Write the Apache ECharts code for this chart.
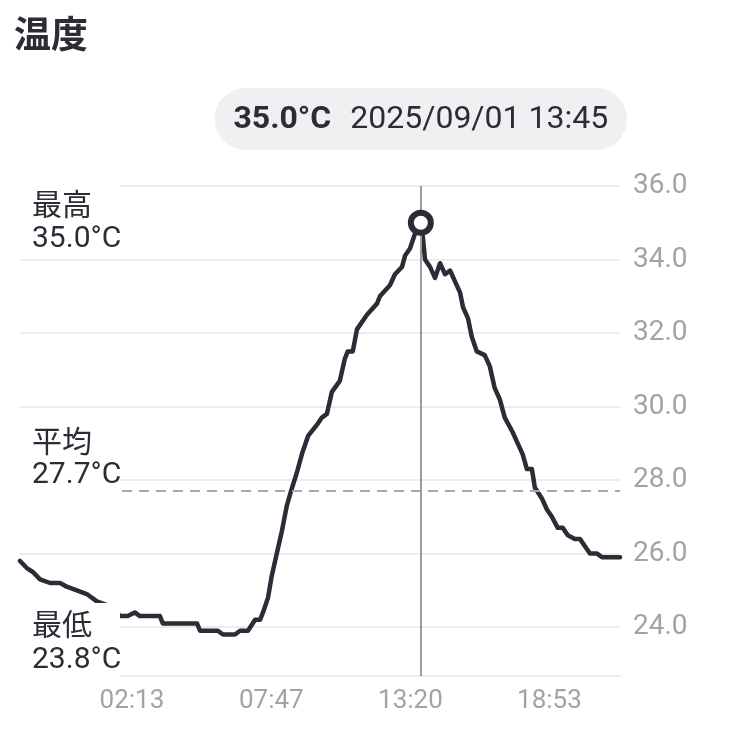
<!DOCTYPE html>
<html><head><meta charset="utf-8">
<script src="https://cdn.jsdelivr.net/npm/echarts@6/dist/echarts.min.js"></script>
<style>html,body{margin:0;padding:0;background:#fff}#c{width:740px;height:740px}</style>
</head><body><div id="c"></div>
<script>
const chartTitle = '温度';
// minutes from 2025/09/01 00:00 (negative = previous evening)
const times = [-135,-118,-104,-87,-63,-39,-23,1,25,49,73,92,104,123,140,152,200,207,248,289,296,339,351,380,392,411,428,440,447,459,468,480,492,504,514,528,540,555,576,588,600,612,631,643,650,662,672,696,720,727,751,763,780,787,799,811,825,830,835,847,859,871,883,895,907,919,926,938,947,959,978,990,1002,1014,1026,1045,1057,1069,1079,1091,1098,1115,1127,1139,1153,1165,1177,1194,1206,1218,1230,1247,1259,1302];
const temps = [25.8,25.6,25.5,25.3,25.2,25.2,25.1,25.0,24.9,24.7,24.6,24.5,24.3,24.3,24.4,24.3,24.3,24.1,24.1,24.1,23.9,23.9,23.8,23.8,23.9,23.9,24.2,24.2,24.4,24.8,25.4,26.0,26.6,27.3,27.7,28.2,28.7,29.2,29.5,29.7,29.8,30.4,30.7,31.3,31.5,31.5,32.1,32.5,32.8,33.0,33.3,33.6,33.8,34.1,34.3,34.7,35.0,34.6,34.0,33.8,33.5,33.9,33.6,33.7,33.4,33.1,32.7,32.4,31.9,31.5,31.4,31.1,30.5,30.2,29.7,29.3,29.0,28.7,28.3,28.3,27.8,27.5,27.2,27.0,26.7,26.7,26.5,26.4,26.4,26.2,26.0,26.0,25.9,25.9];
const xTickLabels = ['02:13','07:47','13:20','18:53'];
const yTickValues = [24,26,28,30,32,34,36];
const xRange = [-135, 1302];
const yRange = [22.67, 36];
const peakDate = '2025/09/01';
const peakTimeLabel = '13:45';
const peakValue = 35.0;
const statNames = ['最高','平均','最低'];
const statValues = [35.0, 27.7, 23.8];

const toMin = s => { const [h,m] = s.split(':').map(Number); return h*60+m; };
const xTickValues = xTickLabels.map(toMin);
const peakTime = toMin(peakTimeLabel);

const FONT = 'Roboto, "Noto Sans CJK JP", sans-serif';
const DARK = '#2b2c35';
const GRID = '#ececec';
const chart = echarts.init(document.getElementById('c'));
const gridTop = 186, gridBottom = 64;

chart.setOption({
  animation: false,
  grid: { left: 20, right: 120, top: gridTop, bottom: gridBottom },
  xAxis: {
    type: 'value', min: xRange[0], max: xRange[1],
    axisLine: { show: true, lineStyle: { color: GRID, width: 2 } },
    axisTick: { show: false, customValues: xTickValues },
    splitLine: { show: false },
    axisLabel: {
      customValues: xTickValues,
      formatter: v => xTickLabels[xTickValues.indexOf(v)] || '',
      color: '#a3a3a3', fontSize: 26, margin: 12, fontFamily: FONT
    }
  },
  yAxis: {
    type: 'value', position: 'right', min: yRange[0], max: yRange[1],
    axisLine: { show: false },
    axisTick: { show: false, customValues: yTickValues },
    axisLabel: {
      customValues: yTickValues,
      formatter: v => v.toFixed(1),
      color: '#a3a3a3', fontSize: 28, margin: 13, fontFamily: FONT
    },
    splitLine: { show: true, lineStyle: { color: GRID, width: 2 } }
  },
  series: [{
    type: 'line',
    data: times.map((t, i) => [t, temps[i]]),
    symbol: 'none',
    lineStyle: { color: DARK, width: 4.5, join: 'round', cap: 'round' },
    markLine: {
      silent: true, symbol: ['none','none'], label: { show: false },
      data: [
        { yAxis: statValues[1], lineStyle: { type: [10, 7], color: '#a8a8a8', width: 2 } },
        { xAxis: peakTime, lineStyle: { type: 'solid', color: '#9c9c9c', width: 2 } }
      ]
    },
    markPoint: {
      silent: true, symbol: 'circle', symbolSize: 20,
      itemStyle: { color: '#fff', borderColor: DARK, borderWidth: 6 },
      label: { show: false },
      data: [{ coord: [peakTime, peakValue] }]
    }
  }]
});

const yPx = v => chart.convertToPixel({ yAxisIndex: 0 }, v);
const xPx = v => chart.convertToPixel({ xAxisIndex: 0 }, v);
const bottomPx = yPx(yRange[0]);
const avgPx = yPx(statValues[1]);

function statGroup(name, val, boxTop, boxH, line1Y, line2Y) {
  return {
    type: 'group', z: 100,
    children: [
      { type: 'rect', shape: { x: 0, y: boxTop, width: 120, height: boxH }, style: { fill: '#fff' }, z: 100 },
      { type: 'text', z: 101, style: { x: 32, y: line1Y, text: name, fill: DARK, fontSize: 30, fontFamily: FONT, verticalAlign: 'middle' } },
      { type: 'text', z: 101, style: { x: 32, y: line2Y, text: val.toFixed(1) + '°C', fill: DARK, fontSize: 30, fontFamily: FONT, verticalAlign: 'middle' } }
    ]
  };
}

chart.setOption({
  graphic: [
    { type: 'text', z: 100, style: { x: 14, y: 39, text: chartTitle, fill: DARK, fontSize: 37, fontWeight: 'bold', fontFamily: FONT, verticalAlign: 'middle' } },
    {
      type: 'text', z: 100,
      style: {
        x: xPx(peakTime), y: 119, align: 'center', verticalAlign: 'middle',
        text: '{b|' + peakValue.toFixed(1) + '°C}{s|}{n|' + peakDate + ' ' + peakTimeLabel + '}',
        rich: {
          b: { fontSize: 32, fontWeight: 'bold', fill: DARK, fontFamily: FONT },
          s: { width: 19, fontSize: 32 },
          n: { fontSize: 32, fill: DARK, fontFamily: FONT }
        },
        backgroundColor: '#f0f0f2', borderRadius: 31, padding: [16, 19, 14, 19]
      }
    },
    statGroup(statNames[0], statValues[0], gridTop - 6, 76, gridTop + 21, gridTop + 53),
    statGroup(statNames[1], statValues[1], avgPx - 69, 75, avgPx - 47, avgPx - 16),
    statGroup(statNames[2], statValues[2], bottomPx - 73, 79, bottomPx - 49, bottomPx - 16)
  ]
});
</script>
</body></html>
